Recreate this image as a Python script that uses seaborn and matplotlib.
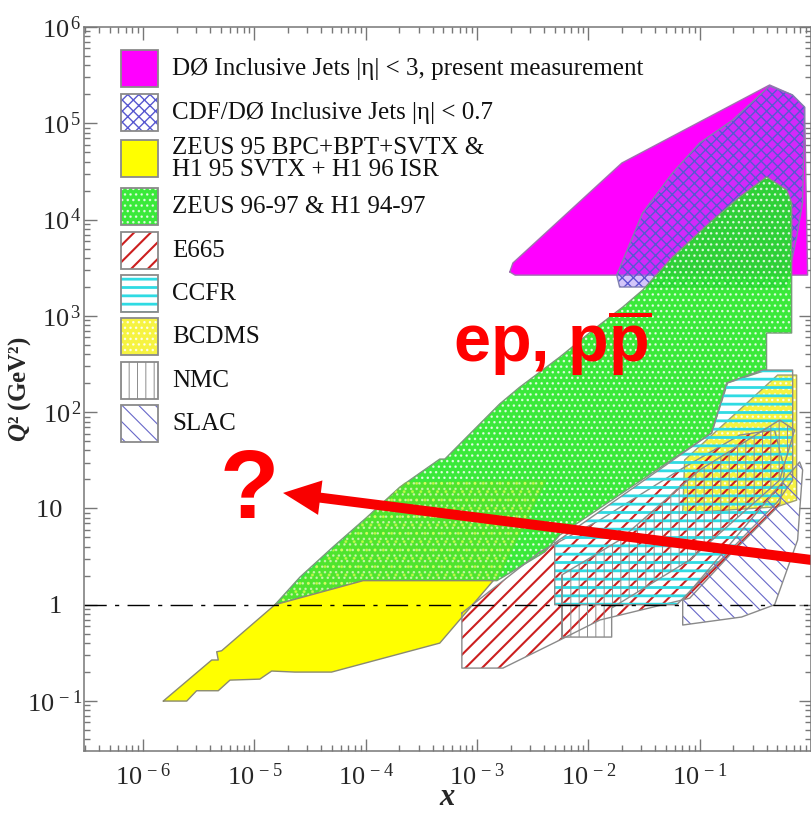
import matplotlib
matplotlib.use("Agg")
import matplotlib.pyplot as plt
import seaborn as sns
from matplotlib.patches import Rectangle
from matplotlib.ticker import FixedLocator, FixedFormatter, LogLocator, NullFormatter

# ---------------- data: kinematic regions (x, Q^2 [GeV^2]) ----------------
d0_x = [1.97e-3, 2.10e-3, 0.020, 0.425, 0.68, 0.876, 0.932, 2.2e-3]
d0_q2 = [2860, 3540, 38700, 2.5e5, 1.97e5, 1.47e5, 2650, 2650]

cdf_x = [0.018, 0.0191, 0.599, 0.643, 0.743, 0.84, 0.876, 0.68, 0.425, 0.198, 0.1, 0.0571, 0.0307]
cdf_q2 = [2650, 1995, 1995, 2990, 6590, 14900, 1.47e5, 1.97e5, 2.44e5, 1.08e5, 6.24e4, 3.05e4, 1.17e4]

hera_x = [1.53e-5, 2.57e-5, 5.08e-5, 1.03e-4, 2.03e-4, 2.49e-4, 4.63e-4, 5.14e-4, 1.60e-3, 2.42e-3,
          5.54e-3, 1.19e-2, 2.04e-2, 3.08e-2, 5.72e-2, 0.131, 0.229, 0.399, 0.604, 0.670, 0.670,
          0.399, 0.399, 0.178, 0.128, 5.54e-3, 4.06e-3, 1.51e-3, 9.5e-5]
hera_q2 = [1.0, 1.94, 3.98, 8.15, 16.7, 19.7, 32.6, 32.6, 122, 182, 374, 766, 1236, 1857, 4090,
           9900, 17200, 27700, 20300, 14900, 664, 664, 274, 201, 60.8, 5.30, 3.53, 1.78, 1.78]

h1low_x = [1.6e-5, 2.25e-4, 4.23e-3, 1.51e-3, 9.5e-5]
h1low_q2 = [1.05, 18.8, 19.7, 1.78, 1.78]

zeus95_x = [1.52e-6, 2.47e-6, 3.03e-6, 4.74e-6, 6.04e-6, 1.12e-5, 1.43e-5, 2.31e-5, 4.94e-5,
            4.63e-4, 1.40e-3, 9.5e-5, 1.53e-5, 5.08e-6, 4.59e-6, 4.74e-6, 4.14e-6]
zeus95_q2 = [0.10, 0.10, 0.128, 0.128, 0.165, 0.169, 0.205, 0.20, 0.20,
             0.40, 1.78, 1.78, 1.0, 0.333, 0.325, 0.267, 0.267]

e665_x = [7.31e-4, 3.66e-3, 1.27e-2, 6.61e-2, 0.229, 0.471, 0.579, 0.523, 0.186, 0.0813,
          1.27e-2, 5.54e-3, 1.71e-3, 7.31e-4]
e665_q2 = [0.821, 3.53, 7.59, 25.1, 57.9, 65.3, 25.1, 10.9, 3.28, 1.17, 0.695, 0.430, 0.220, 0.220]

ccfr_x = [4.99e-3, 0.128, 0.175, 0.368, 0.684, 0.684, 0.491, 0.0622, 4.99e-3]
ccfr_q2 = [4.38, 60.8, 201, 274, 274, 19.7, 11.4, 1.0, 1.0]

bcdms_x = [0.0704, 0.0733, 0.501, 0.743, 0.743, 0.491]
bcdms_q2 = [8.97, 31.9, 243, 243, 12.2, 10.4]

nmc_x = [5.77e-3, 1.62e-2, 1.62e-2, 0.0813, 0.523, 0.712, 0.523, 0.1, 0.0191, 5.77e-3]
nmc_q2 = [0.462, 0.462, 0.925, 2.92, 19.7, 65.3, 82.9, 25.1, 4.70, 2.04]

slac_x = [0.0704, 0.790, 0.841, 0.758, 0.471, 0.238, 0.0704]
slac_q2 = [1.12, 30.4, 25.1, 4.70, 1.0, 0.746, 0.616]

legend_labels = ["DØ Inclusive Jets |η| < 3, present measurement",
                 "CDF/DØ Inclusive Jets |η| < 0.7",
                 "ZEUS 95 BPC+BPT+SVTX &\nH1 95 SVTX + H1 96 ISR",
                 "ZEUS 96-97 & H1 94-97",
                 "E665", "CCFR", "BCDMS", "NMC", "SLAC"]

NB = "\u00a0"
x_ticks = [1e-6, 1e-5, 1e-4, 1e-3, 1e-2, 1e-1, 1.0]
x_ticklabels = [r"$\mathrm{10}^{\,-6}$", r"$\mathrm{10}^{\,-5}$", r"$\mathrm{10}^{\,-4}$",
                r"$\mathrm{10}^{\,-3}$", r"$\mathrm{10}^{\,-2}$", r"$\mathrm{10}^{\,-1}$", ""]
y_ticks = [0.1, 1, 10, 100, 1e3, 1e4, 1e5, 1e6]
y_ticklabels = [r"$\mathrm{10}^{\,-1}$", "1" + NB * 3, "10" + NB * 3,
                r"$\mathrm{10}^{\,2}$", r"$\mathrm{10}^{\,3}$", r"$\mathrm{10}^{\,4}$",
                r"$\mathrm{10}^{\,5}$", r"$\mathrm{10}^{\,6}$"]

# arrow (tip, tail) and annotations
arrow_tip = (1.81e-5, 14.5)
arrow_tail = (2.22, 2.60)
pp_text_pos = (4.69e-3, 332)
q_text_pos = (8.95e-6, 7.96)

# ---------------- styling ----------------
sns.set_style("ticks")
plt.rcParams.update({
    "font.family": ["Liberation Serif", "DejaVu Serif"],
    "mathtext.fontset": "custom",
    "mathtext.rm": "Liberation Serif",
    "mathtext.it": "Liberation Serif:italic:bold",
    "mathtext.bf": "Liberation Sans:bold",
    "axes.edgecolor": "#777777",
    "axes.linewidth": 1.1,
    "hatch.linewidth": 1.0,
})

fig = plt.figure(figsize=(8.12, 8.17), dpi=100)
fig.patch.set_facecolor("white")
ax = fig.add_axes([84 / 812, 1 - 751 / 817, 727 / 812, 724 / 817])
ax.set_xscale("log")
ax.set_yscale("log")
ax.set_facecolor("white")

EDGE = "#8a8a8a"


def region(xs, ys, face, hatch=None, hcolor="none", hlw=1.0, edge=EDGE, elw=1.0, z=2):
    with plt.rc_context({"hatch.linewidth": hlw}):
        polys = ax.fill(xs, ys, facecolor=face, edgecolor=hcolor, hatch=hatch,
                        linewidth=0, zorder=z)
    for p in polys:
        if hasattr(p, "set_hatch_linewidth"):
            p.set_hatch_linewidth(hlw)
    sns.lineplot(x=list(xs) + [xs[0]], y=list(ys) + [ys[0]], sort=False, estimator=None,
                 color=edge, lw=elw, ax=ax, zorder=z + 0.5)


styles = {
    "d0": dict(face="#ff00ff", hatch=None, hcolor="none", hlw=1.0, edge="#a070b0"),
    "cdf": dict(face=(0.55, 0.42, 0.95, 0.38), hatch="xxx", hcolor="#5858d0", hlw=1.0, edge="#8080b0"),
    "zeus95": dict(face="#ffff00", hatch=None, hcolor="none", hlw=1.0, edge="#8a8a70"),
    "hera": dict(face=(0.12, 0.90, 0.12, 0.88), hatch="...", hcolor=(1, 1, 1, 0.75), hlw=1.0, edge="#7a9a7a"),
    "e665": dict(face="none", hatch="//", hcolor="#cc1f1f", hlw=1.5, edge=EDGE),
    "ccfr": dict(face="none", hatch="--", hcolor="#2fdbe3", hlw=2.0, edge=EDGE),
    "bcdms": dict(face=(0.96, 0.95, 0.12, 0.85), hatch="...", hcolor=(1, 1, 1, 0.8), hlw=1.0, edge="#a0a070"),
    "nmc": dict(face="none", hatch="||", hcolor="#8c8c8c", hlw=0.7, edge=EDGE),
    "slac": dict(face="none", hatch="\\\\", hcolor="#6868c8", hlw=0.8, edge=EDGE),
}

region(d0_x, d0_q2, z=2, **styles["d0"])
region(cdf_x, cdf_q2, z=3, **styles["cdf"])
region(hera_x, hera_q2, z=4, **styles["hera"])
region(h1low_x, h1low_q2, face=(0.55, 0.85, 0.05, 0.25), hatch="..", hcolor=(0.85, 1.0, 0.3, 0.6),
       hlw=1.0, edge=(0.5, 0.8, 0.5, 0.0), z=4.6)
region(zeus95_x, zeus95_q2, z=5, **styles["zeus95"])
region(bcdms_x, bcdms_q2, z=6, **styles["bcdms"])
region(e665_x, e665_q2, z=7, **styles["e665"])
region(ccfr_x, ccfr_q2, z=8, **styles["ccfr"])
region(nmc_x, nmc_q2, z=9, **styles["nmc"])
region(slac_x, slac_q2, z=10, **styles["slac"])

# Q^2 = 1 dash-dot line
ax.axhline(1.0, color="black", lw=1.0, dashes=(16, 6, 3, 6), zorder=12)

# red annotations
ax.annotate("", xy=arrow_tip, xytext=arrow_tail, xycoords="data", textcoords="data",
            annotation_clip=False, zorder=20,
            arrowprops=dict(arrowstyle="simple,head_length=2.7,head_width=2.5,tail_width=0.72",
                            mutation_scale=10, color="#f80000", lw=0, shrinkA=0, shrinkB=0))
ax.text(*pp_text_pos, r"ep, p$\overline{\mathbf{p}}$", color="#ff0000", fontsize=48, fontweight="bold",
        family=["Liberation Sans", "DejaVu Sans"], ha="center", va="baseline", zorder=21)
ax.text(*q_text_pos, "?", color="#ff0000", fontsize=70, fontweight="bold",
        family=["Liberation Sans", "DejaVu Sans"], ha="center", va="baseline", zorder=21)

# axes / ticks
ax.set_xlim(2.95e-7, 1.0)
ax.set_ylim(0.0303, 1e6)
ax.xaxis.set_major_locator(FixedLocator(x_ticks))
ax.xaxis.set_major_formatter(FixedFormatter(x_ticklabels))
ax.yaxis.set_major_locator(FixedLocator(y_ticks))
ax.yaxis.set_major_formatter(FixedFormatter(y_ticklabels))
ax.xaxis.set_minor_locator(LogLocator(base=10, subs=range(2, 10), numticks=30))
ax.yaxis.set_minor_locator(LogLocator(base=10, subs=range(2, 10), numticks=30))
ax.xaxis.set_minor_formatter(NullFormatter())
ax.yaxis.set_minor_formatter(NullFormatter())
ax.tick_params(which="both", direction="in", top=True, right=True, color="#777777", width=1.0)
ax.tick_params(which="major", length=9)
ax.tick_params(which="minor", length=4.5)
ax.tick_params(axis="x", which="major", labelsize=19, pad=9)
ax.tick_params(axis="y", which="major", labelsize=19, pad=1.5)
for s in ax.spines.values():
    s.set_visible(True)
    s.set_zorder(30)

ax.set_xlabel("x", fontsize=22, fontstyle="italic", fontweight="bold")
ax.xaxis.set_label_coords(0.5, -(783 - 751) / 724)
ax.set_ylabel(r"$\mathit{Q}$² (GeV²)", fontsize=18, fontweight="bold")
ax.yaxis.set_label_coords((33 - 84) / 727, 0.5)

# ---------------- manual legend (figure pixel layout) ----------------
W, H = 812.0, 817.0
legend_tops = [50, 94, 140, 188, 232, 275, 318, 362, 405]
legend_keys = ["d0", "cdf", "zeus95", "hera", "e665", "ccfr", "bcdms", "nmc", "slac"]
for top, key, lab in zip(legend_tops, legend_keys, legend_labels):
    st = styles[key]
    x0, y0 = 121 / W, 1 - (top + 37) / H
    w, h = 37 / W, 37 / H
    face = st["face"]
    if key == "cdf":
        face = "white"
    with plt.rc_context({"hatch.linewidth": st["hlw"]}):
        r1 = Rectangle((x0, y0), w, h, transform=fig.transFigure, facecolor=face,
                       edgecolor=st["hcolor"], hatch=st["hatch"], lw=0, zorder=40)
    if hasattr(r1, "set_hatch_linewidth"):
        r1.set_hatch_linewidth(st["hlw"])
    r2 = Rectangle((x0, y0), w, h, transform=fig.transFigure, fill=False,
                   edgecolor="#8a8a8a", lw=1.3, zorder=41)
    fig.add_artist(r1)
    fig.add_artist(r2)
    fig.text(172 / W, 1 - (top + 19) / H, lab, ha="left", va="center", fontsize=18,
             linespacing=1.0, color="#111111")

fig.savefig("out.png", dpi=100)
